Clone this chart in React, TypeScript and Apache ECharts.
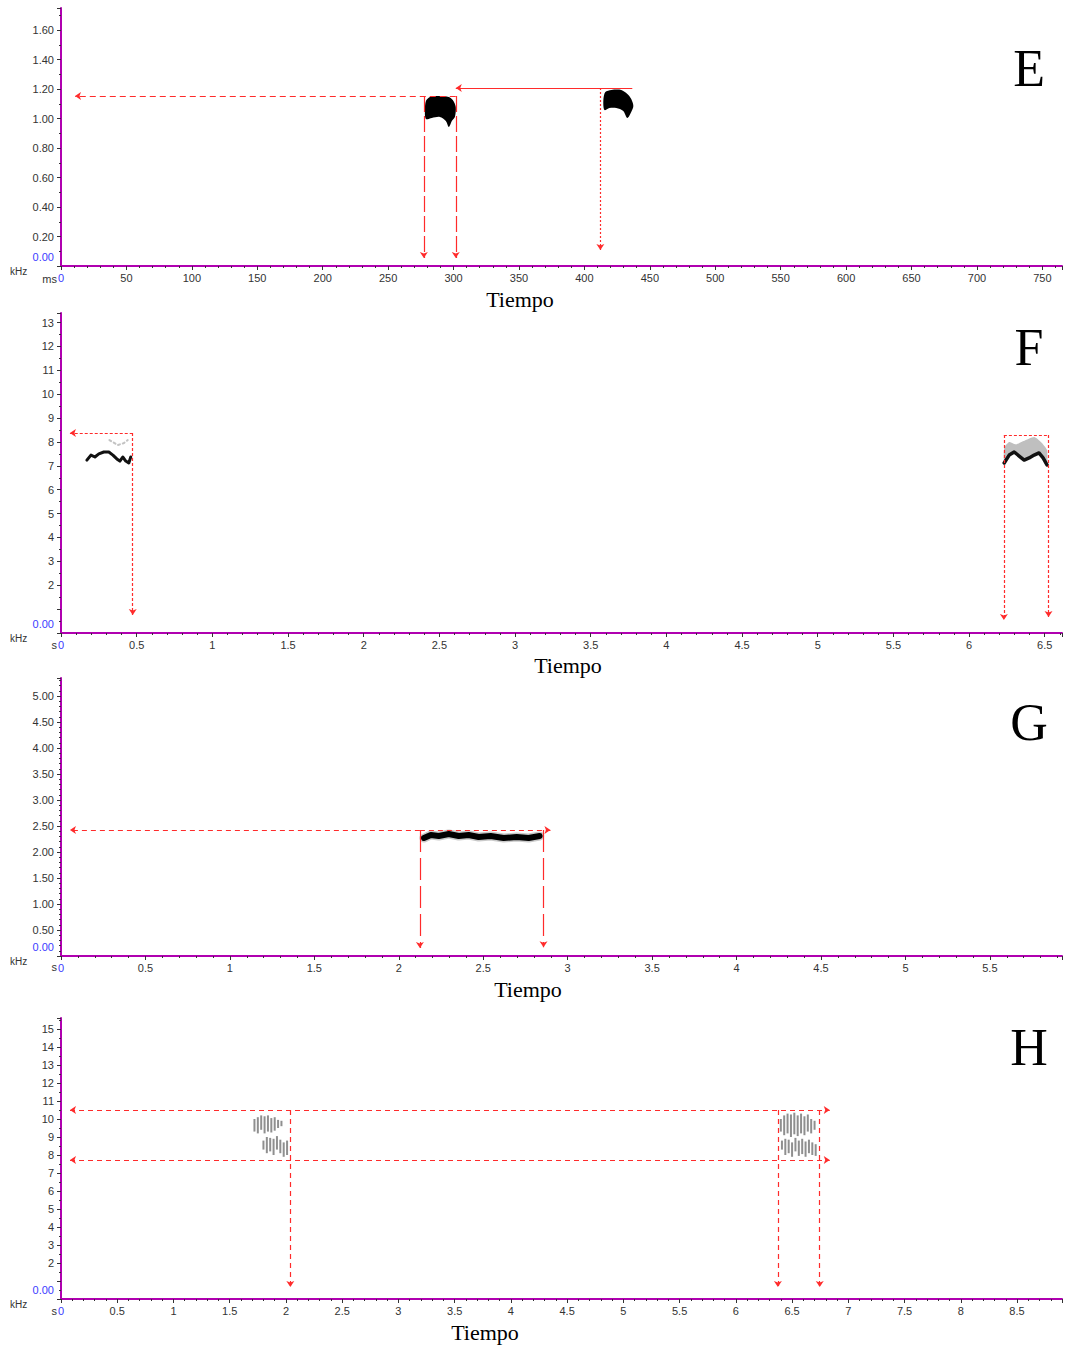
import React, { useEffect, useRef } from "react";
import * as echarts from "echarts";

// ---------------- Axis definitions (one entry per panel E, F, G, H) ----------------
const panelLetters = ["E", "F", "G", "H"];
const timeUnits = ["ms", "s", "s", "s"];
const axisTitle = "Tiempo";
const freqUnit = "kHz";
const xMaxs = [765, 6.614, 5.927, 8.9];
const xIntervals = [50, 0.5, 0.5, 0.5];
const yMaxs = [1.75, 13.4, 5.346, 15.61];
const yIntervals = [0.2, 1, 0.5, 1];
const yMinorSplits = [2, 2, 5, 2];
const yDecimals = [2, 0, 2, 0];
const yHiddenLabels = [[], [1], [], [1]];

// ---------------- Panel E (ms, kHz) ----------------
const eBlob1 = [
  [278.9, 1.12], [281.9, 1.147], [288.8, 1.153], [296.4, 1.147], [299.4, 1.126],
  [301.7, 1.079], [301.0, 1.011], [298.7, 0.984], [296.4, 0.943], [294.1, 0.984],
  [289.5, 1.011], [283.4, 1.004], [278.9, 0.997], [278.1, 1.058],
];
const eBlob2 = [
  [416.0, 1.18], [420.6, 1.194], [428.2, 1.194], [432.8, 1.167], [435.8, 1.133],
  [437.4, 1.085], [435.8, 1.045], [432.8, 1.004], [429.7, 1.052], [424.4, 1.072],
  [419.1, 1.072], [415.3, 1.058], [414.5, 1.126],
];
// [from, to, dash, startArrow, endArrow]
const eAnnotations = [
  [[301.7, 1.153], [10.7, 1.153], [6, 4], false, true],
  [[277.3, 1.153], [277.3, 0.054], [16, 4], false, true],
  [[301.7, 1.153], [301.7, 0.054], [16, 4], false, true],
  [[436.6, 1.207], [301.7, 1.207], "solid", false, true],
  [[412.2, 1.207], [412.2, 0.108], [2, 2], false, true],
];

// ---------------- Panel F (s, kHz) ----------------
const fLeftMain = [
  [0.171, 7.24], [0.198, 7.45], [0.224, 7.37], [0.25, 7.5], [0.283, 7.58], [0.316, 7.58],
  [0.343, 7.45], [0.369, 7.29], [0.389, 7.2], [0.408, 7.37], [0.428, 7.2], [0.448, 7.12], [0.461, 7.37],
];
const fLeftFaint = [[0.32, 8.08], [0.375, 7.87], [0.415, 7.95], [0.441, 8.08]];
const fRightMain = [
  [6.232, 7.12], [6.265, 7.45], [6.298, 7.58], [6.331, 7.41], [6.364, 7.24],
  [6.397, 7.33], [6.43, 7.45], [6.462, 7.54], [6.489, 7.33], [6.515, 7.04],
];
const fRightFuzz = [
  [6.232, 7.75], [6.265, 8.0], [6.31, 7.9], [6.36, 8.04], [6.43, 8.21], [6.475, 8.0], [6.515, 7.66],
  [6.515, 7.04], [6.489, 7.33], [6.462, 7.54], [6.43, 7.45], [6.397, 7.33], [6.364, 7.24],
  [6.331, 7.41], [6.298, 7.58], [6.265, 7.45], [6.232, 7.12],
];
const fAnnotations = [
  [[0.474, 8.37], [0.059, 8.37], [3, 2], false, true],
  [[0.474, 8.37], [0.474, 0.75], [3, 2], false, true],
  [[6.23, 8.29], [6.525, 8.29], [3, 2], false, false],
  [[6.23, 8.29], [6.23, 0.54], [3, 2], false, true],
  [[6.525, 8.29], [6.525, 0.67], [3, 2], false, true],
];

// ---------------- Panel G (s, kHz) ----------------
const gTrace = [
  [2.149, 2.269], [2.19, 2.327], [2.237, 2.308], [2.296, 2.346], [2.355, 2.308], [2.414, 2.327],
  [2.473, 2.288], [2.544, 2.308], [2.621, 2.269], [2.698, 2.288], [2.769, 2.269], [2.834, 2.308],
];
const gAnnotations = [
  [[2.125, 2.423], [0.053, 2.423], [5, 4], false, true],
  [[2.125, 2.423], [2.898, 2.423], [5, 4], false, true],
  [[2.125, 2.423], [2.125, 0.154], [22, 6], false, true],
  [[2.857, 2.423], [2.857, 0.17], [22, 6], false, true],
];

// ---------------- Panel H (s, kHz) : [time, fLow, fHigh] ----------------
const hStrokes = [
  [1.72, 9.3, 10.0], [1.75, 9.2, 10.1], [1.78, 9.4, 10.2], [1.81, 9.2, 10.15], [1.84, 9.3, 10.2],
  [1.87, 9.25, 10.05], [1.9, 9.35, 10.1], [1.93, 9.5, 9.95], [1.96, 9.6, 9.9],
  [1.8, 8.3, 8.8], [1.83, 8.1, 9.0], [1.86, 8.2, 8.95], [1.89, 8.0, 8.9], [1.92, 8.3, 9.05],
  [1.95, 8.1, 8.85], [1.98, 7.9, 8.7], [2.01, 8.0, 8.8],
  [6.4, 9.3, 10.0], [6.43, 9.1, 10.2], [6.46, 9.2, 10.3], [6.49, 9.0, 10.25], [6.52, 9.15, 10.35],
  [6.55, 9.05, 10.2], [6.58, 9.2, 10.3], [6.61, 9.1, 10.15], [6.64, 9.3, 10.25], [6.67, 9.2, 10.0], [6.7, 9.4, 9.9],
  [6.41, 8.3, 8.8], [6.44, 8.0, 8.9], [6.47, 8.1, 8.85], [6.5, 7.9, 8.7], [6.53, 8.2, 8.95],
  [6.56, 7.95, 8.8], [6.59, 8.05, 8.9], [6.62, 7.9, 8.75], [6.65, 8.1, 8.85], [6.68, 8.0, 8.7], [6.71, 7.95, 8.6],
];
const hAnnotations = [
  [[0.08, 10.5], [6.835, 10.5], [5, 4], true, true],
  [[0.08, 7.72], [6.835, 7.72], [5, 4], true, true],
  [[2.039, 10.5], [2.039, 0.67], [5, 4], false, true],
  [[6.374, 10.5], [6.374, 0.67], [5, 4], false, true],
  [[6.746, 10.5], [6.746, 0.67], [5, 4], false, true],
];

// ---------------- layout ----------------
const grids = [
  { left: 61, top: 8, width: 1004, height: 258 },
  { left: 61, top: 313, width: 1004, height: 320 },
  { left: 61, top: 678, width: 1004, height: 278 },
  { left: 61, top: 1018, width: 1004, height: 281 },
];
const RED = "#ff2b2b";
const AXIS = "#b000b0";
const LABEL = "#333";
const BLUE = "#3b3bff";
const SANS = "Liberation Sans, Arial, sans-serif";
const SERIF = "Liberation Serif, Times New Roman, serif";

function isMultiple(v: number, step: number) {
  const r = v / step;
  return Math.abs(r - Math.round(r)) < 1e-6;
}

function annotationSeries(list: any[], idx: number) {
  return {
    type: "line",
    xAxisIndex: idx,
    yAxisIndex: idx,
    data: [],
    silent: true,
    markLine: {
      silent: true,
      animation: false,
      symbolSize: 6,
      label: { show: false },
      emphasis: { disabled: true },
      lineStyle: { color: RED, width: 1.2 },
      data: list.map(([a, b, dash, sA, eA]) => [
        { coord: a, symbol: sA ? "arrow" : "none", lineStyle: { type: dash, color: RED, width: 1.2 } },
        { coord: b, symbol: eA ? "arrow" : "none" },
      ]),
    },
  };
}

function polygonSeries(pts: number[][], idx: number, fill: string, smooth = 0.3) {
  return {
    type: "custom",
    xAxisIndex: idx,
    yAxisIndex: idx,
    silent: true,
    data: [pts[0]],
    renderItem: (_p: any, api: any) => ({
      type: "polygon",
      shape: { points: pts.map((p) => api.coord(p)), smooth },
      style: { fill },
    }),
  };
}

function lineSeries(pts: number[][], idx: number, color: string, width: number, opacity = 1, type: any = "solid") {
  return {
    type: "line",
    xAxisIndex: idx,
    yAxisIndex: idx,
    data: pts,
    showSymbol: false,
    silent: true,
    lineStyle: { color, width, opacity, type, join: "round", cap: "round" },
  };
}

export default function App() {
  const ref = useRef<HTMLDivElement>(null);

  useEffect(() => {
    if (!ref.current) return;
    const chart = echarts.init(ref.current, undefined, { renderer: "svg" });

    const xAxis = grids.map((_, i) => ({
      type: "value",
      gridIndex: i,
      min: 0,
      max: xMaxs[i],
      interval: xIntervals[i],
      axisLine: { show: true, onZero: false, lineStyle: { color: AXIS, width: 2 } },
      axisTick: { show: true, length: 4, lineStyle: { color: LABEL } },
      minorTick: { show: true, splitNumber: 5, length: 2, lineStyle: { color: LABEL } },
      splitLine: { show: false },
      axisLabel: {
        margin: 6,
        color: LABEL,
        fontSize: 11,
        fontFamily: SANS,
        formatter: (v: number) => {
          if (!isMultiple(v, xIntervals[i])) return "";
          if (v === 0) return "{b|0}";
          return String(Number(v.toFixed(2)));
        },
        rich: { b: { color: BLUE, fontSize: 11, fontFamily: SANS } },
      },
    }));

    const yAxis = grids.map((_, i) => ({
      type: "value",
      gridIndex: i,
      min: 0,
      max: yMaxs[i],
      interval: yIntervals[i],
      axisLine: { show: true, onZero: false, lineStyle: { color: AXIS, width: 2 } },
      axisTick: { show: true, length: 4, lineStyle: { color: LABEL } },
      minorTick: { show: true, splitNumber: yMinorSplits[i], length: 2, lineStyle: { color: LABEL } },
      splitLine: { show: false },
      axisLabel: {
        margin: 7,
        color: LABEL,
        fontSize: 11,
        fontFamily: SANS,
        formatter: (v: number) => {
          if (!isMultiple(v, yIntervals[i])) return "";
          if (v === 0) return "{z|0.00}";
          if (yHiddenLabels[i].some((h) => Math.abs(h - v) < 1e-9)) return "";
          return v.toFixed(yDecimals[i]);
        },
        rich: { z: { color: BLUE, fontSize: 11, fontFamily: SANS, padding: [0, 0, 18, 0] } },
      },
    }));

    const hStrokeSeries = {
      type: "custom",
      xAxisIndex: 3,
      yAxisIndex: 3,
      silent: true,
      data: hStrokes,
      encode: { x: 0, y: [1, 2] },
      renderItem: (_p: any, api: any) => {
        const a = api.coord([api.value(0), api.value(1)]);
        const b = api.coord([api.value(0), api.value(2)]);
        return {
          type: "line",
          shape: { x1: a[0], y1: a[1], x2: b[0], y2: b[1] },
          style: { stroke: "#444", lineWidth: 2, opacity: 0.6 },
        };
      },
    };

    const series: any[] = [
      // E
      polygonSeries(eBlob1, 0, "#000"),
      polygonSeries(eBlob2, 0, "#000"),
      annotationSeries(eAnnotations, 0),
      // F
      lineSeries(fLeftFaint, 1, "#888", 2, 0.5, [2, 3]),
      lineSeries(fLeftMain, 1, "#111", 3),
      polygonSeries(fRightFuzz, 1, "rgba(0,0,0,0.25)", 0.2),
      lineSeries(fRightMain, 1, "#111", 3.5),
      annotationSeries(fAnnotations, 1),
      // G
      lineSeries(gTrace, 2, "#666", 9, 0.35),
      lineSeries(gTrace, 2, "#000", 6),
      annotationSeries(gAnnotations, 2),
      // H
      hStrokeSeries,
      annotationSeries(hAnnotations, 3),
    ];

    const kHzY = [271, 638, 961, 1304];
    const unitY = [279, 645, 967, 1311];
    const tiempoPos = [[520, 299], [568, 665], [528, 989], [485, 1332]];
    const letterY = [68, 347, 722, 1047];
    const graphic: any[] = [];
    for (let i = 0; i < 4; i++) {
      graphic.push({
        type: "text", x: 10, y: kHzY[i],
        style: { text: freqUnit, fontSize: 10, fontFamily: SANS, fill: LABEL, verticalAlign: "middle", align: "left" },
      });
      graphic.push({
        type: "text", x: 57, y: unitY[i],
        style: { text: timeUnits[i], fontSize: 11, fontFamily: SANS, fill: LABEL, verticalAlign: "middle", align: "right" },
      });
      graphic.push({
        type: "text", x: tiempoPos[i][0], y: tiempoPos[i][1],
        style: { text: axisTitle, fontSize: 22, fontFamily: SERIF, fill: "#000", verticalAlign: "middle", align: "center" },
      });
      graphic.push({
        type: "text", x: 1029, y: letterY[i],
        style: { text: panelLetters[i], fontSize: 52, fontFamily: SERIF, fill: "#000", verticalAlign: "middle", align: "center" },
      });
    }

    chart.setOption({
      animation: false,
      backgroundColor: "#fff",
      grid: grids.map((g) => ({ ...g, containLabel: false })),
      xAxis,
      yAxis,
      series,
      graphic,
    });
    return () => chart.dispose();
  }, []);

  return (
    <div
      ref={ref}
      style={{ position: "absolute", left: 0, top: 0, width: 1065, height: 1346, background: "#fff" }}
    />
  );
}
